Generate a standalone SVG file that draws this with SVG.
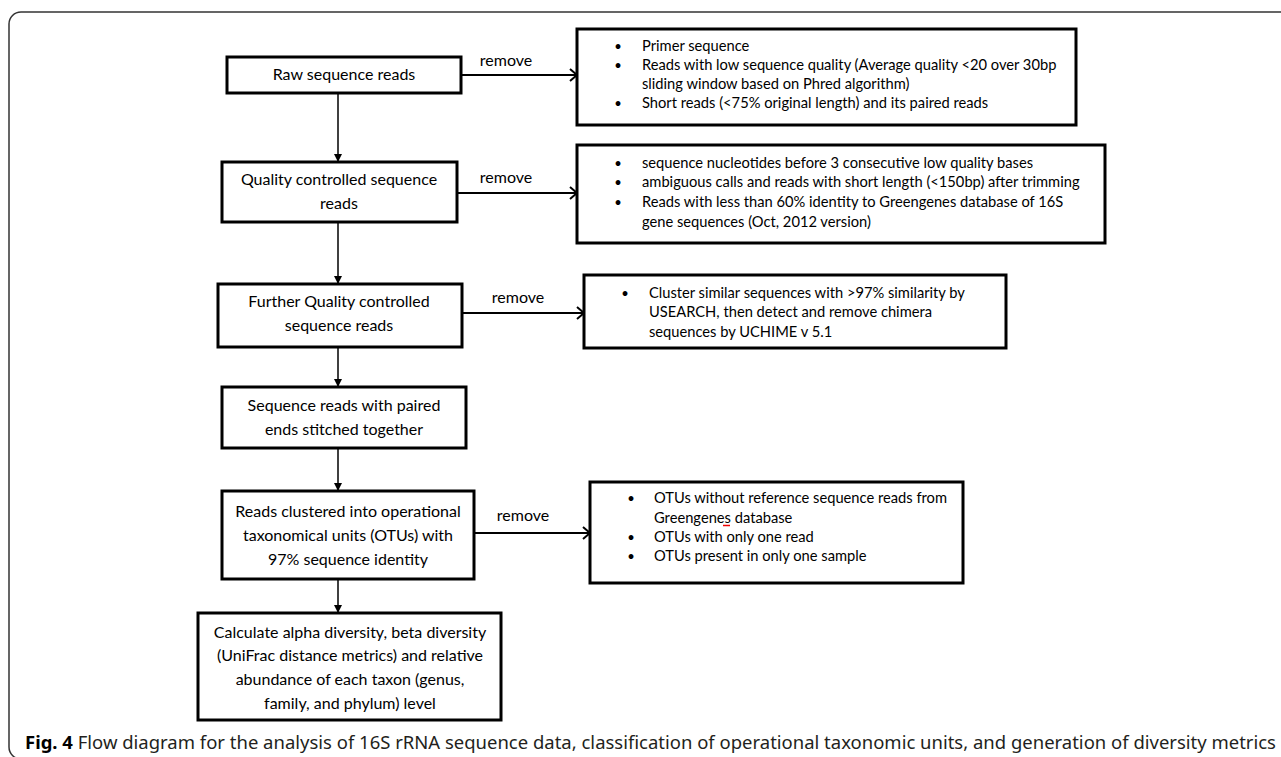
<svg xmlns="http://www.w3.org/2000/svg" width="1281" height="757" viewBox="0 0 1281 757">
<style>
.box{fill:#fff;stroke:#000;stroke-width:3}
.t{font-family:Lato,"Open Sans","Liberation Sans",sans-serif;font-size:16px;fill:#000;text-anchor:middle}
.b{font-family:Lato,"Open Sans","Liberation Sans",sans-serif;font-size:14.7px;fill:#000}
.d{font-family:Lato,"Open Sans","Liberation Sans",sans-serif;font-size:13px;fill:#000;text-anchor:middle}
.lbl{font-family:Lato,"Open Sans","Liberation Sans",sans-serif;font-size:16px;fill:#000;text-anchor:middle}
.v{stroke:#000;stroke-width:1.5;fill:none}
.h{stroke:#000;stroke-width:2;fill:none}
.cap{font-family:"Noto Sans","Open Sans","Liberation Sans",sans-serif;font-size:18px;fill:#231f20}
</style>
<defs>
<marker id="tri" markerWidth="10" markerHeight="10" refX="9" refY="5" orient="auto" markerUnits="userSpaceOnUse">
<path d="M1,1 L9,5 L1,9 Z" fill="#000"/>
</marker>
<marker id="open" markerWidth="14" markerHeight="14" refX="12" refY="7" orient="auto" markerUnits="userSpaceOnUse">
<path d="M5,1 L12,7 L5,13" fill="none" stroke="#000" stroke-width="2"/>
</marker>
</defs>
<rect x="9" y="12" width="1300" height="747" rx="12" ry="12" fill="none" stroke="#333" stroke-width="1.5"/>

<g id="connectors">
<line class="v" x1="338" y1="93" x2="338" y2="162" marker-end="url(#tri)"/>
<line class="v" x1="338" y1="222" x2="338" y2="284" marker-end="url(#tri)"/>
<line class="v" x1="338" y1="347" x2="338" y2="387" marker-end="url(#tri)"/>
<line class="v" x1="338" y1="448" x2="338" y2="491" marker-end="url(#tri)"/>
<line class="v" x1="338" y1="579" x2="338" y2="613" marker-end="url(#tri)"/>
<line class="h" x1="461" y1="75" x2="577" y2="75" marker-end="url(#open)"/>
<line class="h" x1="457" y1="193" x2="577" y2="193" marker-end="url(#open)"/>
<line class="h" x1="462" y1="313" x2="584" y2="313" marker-end="url(#open)"/>
<line class="h" x1="474" y1="533" x2="590" y2="533" marker-end="url(#open)"/>
<text class="lbl" x="506" y="66">remove</text>
<text class="lbl" x="506" y="183">remove</text>
<text class="lbl" x="518" y="303">remove</text>
<text class="lbl" x="523" y="521">remove</text>
</g>

<g id="n1">
<rect class="box" x="227" y="57" width="234" height="36"/>
<text class="t" x="344" y="80">Raw sequence reads</text>
</g>
<g id="n2">
<rect class="box" x="222" y="162" width="235" height="60"/>
<text class="t" x="339" y="185">Quality controlled sequence</text>
<text class="t" x="339" y="209">reads</text>
</g>
<g id="n3">
<rect class="box" x="218" y="284" width="244" height="63"/>
<text class="t" x="339" y="307">Further Quality controlled</text>
<text class="t" x="339" y="331">sequence reads</text>
</g>
<g id="n4">
<rect class="box" x="222" y="387" width="244" height="61"/>
<text class="t" x="344" y="411">Sequence reads with paired</text>
<text class="t" x="344" y="435">ends stitched together</text>
</g>
<g id="n5">
<rect class="box" x="222" y="491" width="252" height="88"/>
<text class="t" x="348" y="517">Reads clustered into operational</text>
<text class="t" x="348" y="541">taxonomical units (OTUs) with</text>
<text class="t" x="348" y="565">97% sequence identity</text>
</g>
<g id="n6">
<rect class="box" x="198" y="613" width="303" height="107"/>
<text class="t" x="350" y="638">Calculate alpha diversity, beta diversity</text>
<text class="t" x="350" y="661">(UniFrac distance metrics) and relative</text>
<text class="t" x="350" y="685">abundance of each taxon (genus,</text>
<text class="t" x="350" y="709">family, and phylum) level</text>
</g>

<g id="rA">
<rect class="box" x="577" y="29" width="499" height="96"/>
<text class="d" x="618" y="51">•</text><text class="b" x="642" y="51">Primer sequence</text>
<text class="d" x="618" y="70">•</text><text class="b" x="642" y="70">Reads with low sequence quality (Average quality &lt;20 over 30bp</text>
<text class="b" x="642" y="89">sliding window based on Phred algorithm)</text>
<text class="d" x="618" y="108">•</text><text class="b" x="642" y="108">Short reads (&lt;75% original length) and its paired reads</text>
</g>
<g id="rB">
<rect class="box" x="577" y="145" width="528" height="98"/>
<text class="d" x="618" y="168">•</text><text class="b" x="642" y="168">sequence nucleotides before 3 consecutive low quality bases</text>
<text class="d" x="618" y="187">•</text><text class="b" x="642" y="187">ambiguous calls and  reads with short length (&lt;150bp) after trimming</text>
<text class="d" x="618" y="207">•</text><text class="b" x="642" y="207">Reads with less than 60% identity to Greengenes database of 16S</text>
<text class="b" x="642" y="227">gene sequences (Oct, 2012  version)</text>
</g>
<g id="rC">
<rect class="box" x="584" y="275" width="422" height="73"/>
<text class="d" x="625" y="298">•</text><text class="b" x="649" y="298">Cluster similar sequences with &gt;97% similarity by</text>
<text class="b" x="649" y="317">USEARCH, then detect and remove chimera</text>
<text class="b" x="649" y="337">sequences by UCHIME v 5.1</text>
</g>
<g id="rD">
<rect class="box" x="590" y="482" width="373" height="101"/>
<text class="d" x="631" y="503">•</text><text class="b" x="654" y="503">OTUs without reference sequence reads from</text>
<text class="b" x="654" y="523">Greengenes database</text>
<text class="d" x="631" y="542">•</text><text class="b" x="654" y="542">OTUs with only one read</text>
<text class="d" x="631" y="561">•</text><text class="b" x="654" y="561">OTUs present in only one sample</text>
<line x1="723" y1="525.5" x2="730" y2="525.5" stroke="#e00" stroke-width="1.5"/>
</g>

<text class="cap" x="25" y="749" textLength="1251" lengthAdjust="spacingAndGlyphs"><tspan font-weight="bold" fill="#000">Fig. 4</tspan> Flow diagram for the analysis of 16S rRNA sequence data, classification of operational taxonomic units, and generation of diversity metrics</text>
</svg>
